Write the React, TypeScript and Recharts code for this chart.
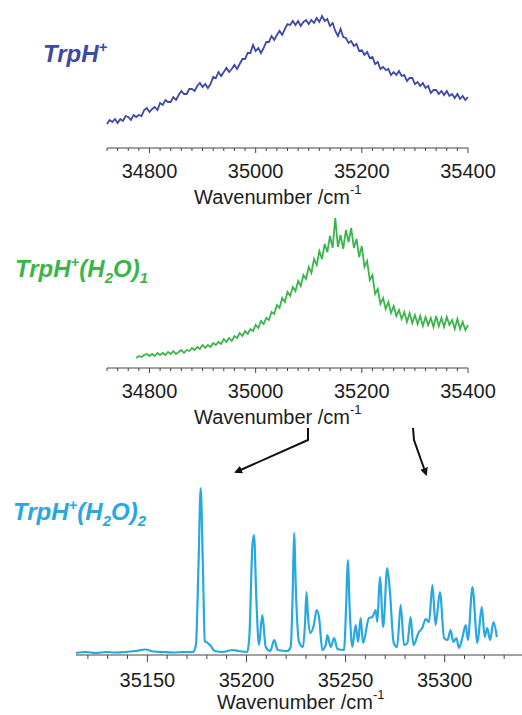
import { LineChart, Line, XAxis, YAxis } from "recharts";

// TrpH+ spectrum (wavenumber, intensity a.u.)
const trpH: [number, number][] = [
  [34720, 24], [34725, 28], [34730, 26], [34735, 29], [34740, 25], [34745, 29], [34750, 27], [34755, 32],
  [34760, 31], [34765, 28], [34770, 33], [34775, 31], [34780, 33], [34785, 32], [34790, 38], [34795, 40],
  [34800, 36], [34805, 39], [34810, 41], [34815, 38], [34820, 45], [34825, 43], [34830, 48], [34835, 46],
  [34840, 46], [34845, 51], [34850, 48], [34855, 53], [34860, 57], [34865, 54], [34870, 54], [34875, 59],
  [34880, 59], [34885, 57], [34890, 62], [34895, 65], [34900, 61], [34905, 64], [34910, 60], [34915, 64],
  [34920, 71], [34925, 70], [34930, 76], [34935, 72], [34940, 76], [34945, 80], [34950, 76], [34955, 79],
  [34960, 83], [34965, 79], [34970, 84], [34975, 89], [34980, 89], [34985, 95], [34990, 95], [34995, 103],
  [35000, 97], [35005, 100], [35010, 95], [35015, 100], [35020, 106], [35025, 106], [35030, 112], [35035, 108],
  [35040, 113], [35045, 117], [35050, 113], [35055, 119], [35060, 124], [35065, 123], [35070, 127], [35075, 123],
  [35080, 127], [35085, 122], [35090, 126], [35095, 128], [35100, 124], [35105, 128], [35110, 125], [35115, 130],
  [35120, 126], [35125, 132], [35130, 127], [35135, 129], [35140, 122], [35145, 125], [35150, 117], [35155, 112],
  [35160, 119], [35165, 111], [35170, 110], [35175, 105], [35180, 107], [35185, 102], [35190, 104], [35195, 97],
  [35200, 98], [35205, 93], [35210, 96], [35215, 90], [35220, 91], [35225, 84], [35230, 86], [35235, 79],
  [35240, 81], [35245, 78], [35250, 79], [35255, 73], [35260, 76], [35265, 73], [35270, 77], [35275, 72],
  [35280, 73], [35285, 67], [35290, 70], [35295, 70], [35300, 64], [35305, 66], [35310, 62], [35315, 65],
  [35320, 60], [35325, 62], [35330, 55], [35335, 58], [35340, 58], [35345, 54], [35350, 57], [35355, 53],
  [35360, 57], [35365, 52], [35370, 54], [35375, 50], [35380, 54], [35385, 49], [35390, 52], [35395, 48],
  [35400, 51],
];

// TrpH+(H2O)1 spectrum
const trpHW1: [number, number][] = [
  [34775, 10], [34780, 12], [34785, 11], [34790, 13], [34795, 14], [34800, 12], [34805, 14], [34810, 12],
  [34815, 15], [34820, 13], [34825, 15], [34830, 13], [34835, 16], [34840, 14], [34845, 17], [34850, 14],
  [34855, 16], [34860, 18], [34865, 15], [34870, 18], [34875, 17], [34880, 20], [34885, 18], [34890, 21],
  [34895, 19], [34900, 23], [34905, 20], [34910, 23], [34915, 21], [34920, 25], [34925, 23], [34930, 26],
  [34935, 24], [34940, 29], [34945, 26], [34950, 30], [34955, 27], [34960, 32], [34965, 30], [34970, 35],
  [34975, 32], [34980, 37], [34985, 34], [34990, 39], [34995, 37], [35000, 43], [35005, 40], [35010, 47],
  [35015, 44], [35020, 50], [35025, 48], [35030, 56], [35035, 54], [35040, 63], [35045, 60], [35050, 70],
  [35055, 66], [35060, 76], [35065, 72], [35070, 81], [35075, 77], [35080, 87], [35085, 82], [35090, 93],
  [35095, 89], [35100, 101], [35105, 95], [35110, 109], [35115, 103], [35120, 117], [35125, 109], [35130, 124],
  [35135, 116], [35140, 132], [35145, 120], [35150, 150], [35155, 121], [35160, 133], [35165, 119], [35170, 138],
  [35175, 126], [35180, 140], [35185, 120], [35190, 129], [35195, 111], [35200, 122], [35205, 101], [35210, 107],
  [35215, 88], [35220, 93], [35225, 74], [35230, 79], [35235, 64], [35240, 70], [35245, 59], [35250, 66],
  [35255, 55], [35260, 62], [35265, 52], [35270, 58], [35275, 49], [35280, 56], [35285, 46], [35290, 55],
  [35295, 45], [35300, 53], [35305, 44], [35310, 52], [35315, 42], [35320, 51], [35325, 43], [35330, 50],
  [35335, 41], [35340, 52], [35345, 42], [35350, 50], [35355, 41], [35360, 51], [35365, 43], [35370, 48],
  [35375, 39], [35380, 49], [35385, 39], [35390, 46], [35395, 38], [35400, 43],
];

// TrpH+(H2O)2 spectrum
const trpHW2: [number, number][] = [
  [35114, 2], [35119, 3], [35124, 2], [35129, 3], [35134, 2.5], [35139, 3], [35144, 4], [35149, 5.5],
  [35153, 3.5], [35158, 3], [35163, 2.5], [35168, 3], [35173, 3], [35174.5, 10], [35175.8, 90], [35176.9, 167],
  [35178, 90], [35179, 14], [35180.5, 12], [35182, 9], [35184, 4], [35188, 3], [35193, 5], [35196, 4],
  [35200.4, 3], [35201.5, 20], [35203, 110], [35203.8, 120], [35205, 55], [35206.3, 10], [35208, 40], [35209.7, 8],
  [35212, 4], [35214, 15], [35215.8, 5], [35220.6, 4], [35222.3, 8], [35223.3, 60], [35224, 122], [35225, 60],
  [35226.5, 13], [35228.5, 8], [35229.5, 30], [35230.3, 63], [35231, 40], [35232, 22], [35234, 30], [35235.4, 45],
  [35236.6, 38], [35238.3, 5], [35240, 10], [35240.8, 20], [35242.5, 8], [35244.2, 17], [35245.9, 6], [35249.2, 5],
  [35250.3, 50], [35251.1, 95], [35252.2, 40], [35253.4, 8], [35255.1, 30], [35256.3, 13], [35257.6, 37], [35258.8, 12],
  [35261.8, 37], [35263.5, 38], [35265.2, 45], [35266, 33], [35267.3, 78], [35269, 28], [35271, 87], [35272.3, 65],
  [35274.3, 12], [35276, 8], [35277.8, 50], [35279.5, 10], [35281.2, 12], [35282.8, 38], [35284.2, 10], [35287, 23],
  [35288.7, 27], [35290.4, 36], [35292.1, 33], [35293.8, 70], [35295.4, 30], [35297.6, 63], [35299.7, 17], [35301.4, 15],
  [35303, 25], [35304.3, 13], [35305.9, 17], [35307.2, 7], [35308.9, 17], [35310.6, 30], [35311.7, 15], [35314, 68],
  [35316.5, 12], [35318.7, 48], [35320.2, 18], [35321.5, 27], [35322.9, 15], [35324.6, 33], [35326.3, 18],
];

const wideTicks = [
  34720, 34740, 34760, 34780, 34800, 34820, 34840, 34860, 34880, 34900, 34920, 34940,
  34960, 34980, 35000, 35020, 35040, 35060, 35080, 35100, 35120, 35140, 35160, 35180,
  35200, 35220, 35240, 35260, 35280, 35300, 35320, 35340, 35360, 35380, 35400,
];
const wideLabels = [34800, 35000, 35200, 35400];
const narrowTicks = [
  35120, 35130, 35140, 35150, 35160, 35170, 35180, 35190, 35200, 35210, 35220,
  35230, 35240, 35250, 35260, 35270, 35280, 35290, 35300, 35310, 35320, 35330,
];
const narrowLabels = [35150, 35200, 35250, 35300];

const BLUE = "#3c4aa6";
const GREEN = "#3bb54a";
const CYAN = "#27a8e0";
const FONT = "'Liberation Sans', Arial, sans-serif";

const toRows = (pts: [number, number][]) => pts.map(([wn, v]) => ({ wn, v }));

const makeTick = (labels: number[], majorLen: number, minorLen: number, labelDy: number) => (props: any) => {
  const { x, y, payload } = props;
  const major = labels.includes(payload.value);
  return (
    <g>
      <line x1={x} x2={x} y1={y} y2={y + (major ? majorLen : minorLen)} stroke="#444" strokeWidth={1} />
      {major && (
        <text x={x} y={y + labelDy} textAnchor="middle" fontSize={20} fill="#1d1d1d" fontFamily={FONT}>
          {payload.value}
        </text>
      )}
    </g>
  );
};

const Title = ({ x, y }: { x: number; y: number }) => (
  <text x={x} y={y} fontSize={20} fill="#1d1d1d" fontFamily={FONT}>
    Wavenumber /cm
    <tspan dy={-10} fontSize={13}>-1</tspan>
  </text>
);

const App = () => {
  return (
    <div style={{ position: "absolute", left: 0, top: 0, width: 522, height: 715, overflow: "hidden", background: "#fff" }}>
      {/* TrpH+ */}
      <div style={{ position: "absolute", left: 0, top: 0 }}>
        <LineChart width={522} height={215} data={toRows(trpH)} margin={{ top: 8, right: 54, left: 107, bottom: 0 }}>
          <XAxis
            dataKey="wn"
            type="number"
            domain={[34720, 35400]}
            ticks={wideTicks}
            interval={0}
            height={67}
            tickSize={0}
            tickMargin={0}
            tickLine={false}
            axisLine={{ stroke: "#444" }}
            tick={makeTick(wideLabels, 5, 3, 30)}
          />
          <YAxis hide domain={[0, 140]} />
          <Line type="linear" dataKey="v" stroke={BLUE} strokeWidth={1.8} dot={false} isAnimationActive={false} />
        </LineChart>
      </div>

      {/* TrpH+(H2O)1 */}
      <div style={{ position: "absolute", left: 0, top: 215 }}>
        <LineChart width={522} height={220} data={toRows(trpHW1)} margin={{ top: 3, right: 54, left: 107, bottom: 0 }}>
          <XAxis
            dataKey="wn"
            type="number"
            domain={[34720, 35400]}
            ticks={wideTicks}
            interval={0}
            height={67}
            tickSize={0}
            tickMargin={0}
            tickLine={false}
            axisLine={{ stroke: "#444" }}
            tick={makeTick(wideLabels, 5, 3, 30)}
          />
          <YAxis hide domain={[0, 150]} />
          <Line type="linear" dataKey="v" stroke={GREEN} strokeWidth={1.8} dot={false} isAnimationActive={false} />
        </LineChart>
      </div>

      {/* TrpH+(H2O)2 */}
      <div style={{ position: "absolute", left: 0, top: 440 }}>
        <LineChart width={522} height={275} data={toRows(trpHW2)} margin={{ top: 45, right: 0, left: 76, bottom: 0 }}>
          <XAxis
            dataKey="wn"
            type="number"
            domain={[35114, 35339]}
            ticks={narrowTicks}
            interval={0}
            height={60}
            tickSize={0}
            tickMargin={0}
            tickLine={false}
            axisLine={{ stroke: "#444" }}
            tick={makeTick(narrowLabels, 7, 4, 32)}
          />
          <YAxis hide domain={[0, 170]} />
          <Line type="monotone" dataKey="v" stroke={CYAN} strokeWidth={2.2} dot={false} isAnimationActive={false} />
        </LineChart>
      </div>

      {/* labels, titles, arrows */}
      <svg width={522} height={715} style={{ position: "absolute", left: 0, top: 0, pointerEvents: "none" }}>
        <defs>
          <marker id="head" markerWidth="8" markerHeight="8" refX="6" refY="4" orient="auto" markerUnits="userSpaceOnUse">
            <path d="M0,0 L8,4 L0,8 Z" fill="#111" />
          </marker>
        </defs>
        <g fontFamily={FONT} fontWeight="bold" fontStyle="italic" fontSize={24}>
          <text x={43} y={62} fill={BLUE}>
            TrpH<tspan dy={-10} fontSize={15}>+</tspan>
          </text>
          <text x={15} y={277} fill={GREEN}>
            TrpH<tspan dy={-10} fontSize={15}>+</tspan>
            <tspan dy={10}>(H</tspan>
            <tspan dy={6} fontSize={15}>2</tspan>
            <tspan dy={-6}>O)</tspan>
            <tspan dy={6} fontSize={15}>1</tspan>
          </text>
          <text x={13} y={520} fill={CYAN}>
            TrpH<tspan dy={-10} fontSize={15}>+</tspan>
            <tspan dy={10}>(H</tspan>
            <tspan dy={6} fontSize={15}>2</tspan>
            <tspan dy={-6}>O)</tspan>
            <tspan dy={6} fontSize={15}>2</tspan>
          </text>
        </g>
        <Title x={194} y={204} />
        <Title x={194} y={424} />
        <Title x={217} y={709} />
        <polyline points="308,428 308,440 236,472" fill="none" stroke="#111" strokeWidth={2} markerEnd="url(#head)" />
        <polyline points="413,428 414,440 426,474" fill="none" stroke="#111" strokeWidth={2} markerEnd="url(#head)" />
      </svg>
    </div>
  );
};

export default App;
